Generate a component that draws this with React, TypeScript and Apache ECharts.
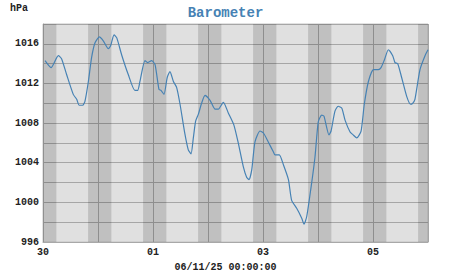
import React, { useEffect, useRef } from "react";
import * as echarts from "echarts";

const hours = [0.9, 3.5, 6.7, 8.1, 10.3, 13.2, 14.7, 15.8, 17.3, 18.3, 19.8, 21.2, 22.7, 24.6, 26.3, 28.5, 29.5, 31, 32.2, 34.3, 37.2, 40.1, 41.3, 42.3, 44.5, 45.7, 47.4, 48.9, 50.6, 51.5, 52.8, 54.2, 55.4, 56.9, 58.3, 59.8, 61.7, 63.4, 64.6, 65.6, 66.6, 67.8, 69.2, 70.7, 72.9, 75.1, 76.5, 78.7, 80.9, 83.3, 85.2, 87.4, 88.9, 89.9, 91.1, 92.5, 94.7, 96.2, 98.3, 100.5, 101.2, 103.1, 104.9, 107.1, 108.5, 110.7, 112.9, 113.9, 115.1, 117.2, 118.7, 120.1, 121.6, 122.6, 124.8, 125.7, 127.4, 128.8, 130.4, 131.8, 134, 135.4, 136.9, 138.8, 140.2, 142, 144.2, 146.3, 147.5, 149, 150.7, 152.6, 153.6, 154.8, 156.5, 158.7, 160.4, 161.3, 162.3, 164.5, 166.7, 168];

const pressure = [1014.3, 1013.6, 1014.8, 1014.5, 1012.9, 1010.9, 1010.4, 1009.8, 1009.8, 1010.2, 1012.2, 1014.6, 1016.1, 1016.7, 1016.3, 1015.5, 1015.8, 1016.9, 1016.6, 1014.9, 1012.9, 1011.3, 1011.3, 1012.2, 1014.3, 1014.1, 1014.3, 1013.9, 1011.4, 1011.3, 1010.9, 1012.6, 1013.2, 1012.2, 1011.6, 1009.9, 1007.2, 1005.3, 1004.9, 1006.5, 1008.2, 1008.9, 1010.0, 1010.8, 1010.3, 1009.4, 1009.4, 1010.1, 1009.0, 1007.8, 1006.0, 1003.6, 1002.5, 1002.3, 1003.3, 1006.1, 1007.2, 1007.0, 1006.1, 1005.1, 1004.8, 1004.8, 1003.8, 1002.3, 1000.2, 999.4, 998.4, 997.8, 998.6, 1001.9, 1004.6, 1008.1, 1008.8, 1008.7, 1006.8, 1007.2, 1009.2, 1009.7, 1009.5, 1008.3, 1007.1, 1006.8, 1006.5, 1007.2, 1009.9, 1012.2, 1013.4, 1013.4, 1013.6, 1014.4, 1015.4, 1014.8, 1014.1, 1014.0, 1012.6, 1010.7, 1009.9, 1010.0, 1010.4, 1013.4, 1014.8, 1015.4];

const dayLabels = ["30", "31", "01", "02", "03", "04", "05", "06"];

const nightStart = [0, 19.67, 43.67, 67.67, 91.67, 115.67, 139.67, 163.67];
const nightEnd = [5.83, 29.83, 53.83, 77.83, 101.83, 125.83, 149.83, 168];

const FONT = "'Courier New', 'Liberation Mono', monospace";

export default function App() {
  const ref = useRef<HTMLDivElement>(null);
  useEffect(() => {
    document.body.style.margin = "0";
    const chart = echarts.init(ref.current!, null, { renderer: "svg" });
    chart.setOption({
      animation: false,
      backgroundColor: "#ffffff",
      title: {
        text: "Barometer",
        left: "center",
        top: 1,
        textStyle: { color: "#4682b4", fontFamily: FONT, fontWeight: "bold", fontSize: 14 },
      },
      graphic: [
        {
          type: "text",
          left: 10,
          top: 3,
          style: { text: "hPa", fill: "#222", font: `bold 10px ${FONT}` },
        },
        {
          type: "text",
          left: "center",
          top: 262,
          style: { text: "06/11/25 00:00:00", fill: "#222", font: `bold 10px ${FONT}` },
        },
      ],
      grid: {
        left: 43,
        right: 23,
        top: 24,
        bottom: 33,
        show: true,
        backgroundColor: "#e0e0e0",
        borderColor: "#c4c4c4",
        borderWidth: 1,
      },
      xAxis: {
        type: "value",
        min: 0,
        max: 168,
        interval: 24,
        axisLine: { show: true, lineStyle: { color: "#a8a8a8" } },
        axisTick: { show: false },
        splitLine: { show: true, lineStyle: { color: "#a6a6a6", width: 1 } },
        axisLabel: {
          margin: 5,
          color: "#222",
          fontFamily: FONT,
          fontWeight: "bold",
          fontSize: 10,
          formatter: (v: number) => {
            const i = Math.round(v / 24);
            return i % 2 === 0 ? dayLabels[i] : "";
          },
        },
      },
      yAxis: {
        type: "value",
        min: 996,
        max: 1018,
        interval: 2,
        axisLine: { show: true, lineStyle: { color: "#a8a8a8" } },
        axisTick: { show: false },
        splitLine: { show: true, lineStyle: { color: "#a6a6a6", width: 1 } },
        axisLabel: {
          margin: 4,
          color: "#222",
          fontFamily: FONT,
          fontWeight: "bold",
          fontSize: 10,
          formatter: (v: number) => ((v - 996) % 4 === 0 ? String(v) : ""),
        },
      },
      series: [
        {
          type: "line",
          data: hours.map((h, i) => [h, pressure[i]]),
          showSymbol: false,
          smooth: 0.2,
          lineStyle: { color: "#4682b4", width: 1.2 },
          markArea: {
            silent: true,
            itemStyle: { color: "rgba(0,0,0,0.14)" },
            data: nightStart.map((s, i) => [{ xAxis: s }, { xAxis: nightEnd[i] }]),
          },
        },
      ],
    });
    return () => chart.dispose();
  }, []);
  return <div ref={ref} style={{ position: "absolute", left: 0, top: 0, width: 451, height: 275 }} />;
}
